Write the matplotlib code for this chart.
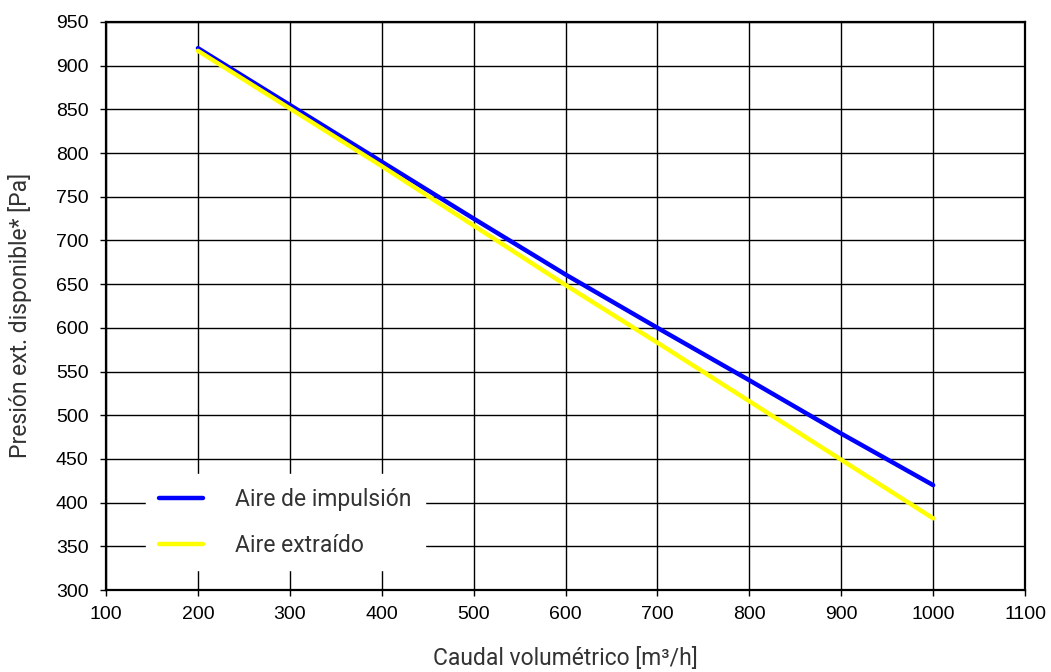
import matplotlib
matplotlib.use("Agg")
import matplotlib.pyplot as plt

# data
caudal = [200, 300, 400, 500, 600, 700, 800, 900, 1000]
impulsion = [920, 855, 790, 725, 661, 600, 540, 479, 420]
extraido = [917, 851, 785, 717, 649, 583, 516, 449, 382]

x_ticks = list(range(100, 1101, 100))
y_ticks = list(range(300, 951, 50))

plt.rcParams['font.family'] = ['Liberation Sans', 'DejaVu Sans']

fig = plt.figure(figsize=(10.51, 6.72), dpi=100)
ax = fig.add_axes([0.1009, 0.1220, 0.8744, 0.8453])

ax.plot(caudal, impulsion, color='#0000ff', lw=3.2, solid_capstyle='round',
        label='Aire de impulsión', zorder=3)
ax.plot(caudal, extraido, color='#ffff00', lw=3.2, solid_capstyle='round',
        label='Aire extraído', zorder=4)

ax.set_xlim(100, 1100)
ax.set_ylim(300, 950)
ax.set_xticks(x_ticks)
ax.set_yticks(y_ticks)
ax.grid(True, color='black', lw=1.0)
ax.set_axisbelow(True)
for s in ax.spines.values():
    s.set_linewidth(1.6)
ax.tick_params(direction='out', length=4.5, width=1, labelsize=14)
ax.tick_params(axis='y', pad=8)
ax.tick_params(axis='x', pad=7)

lab_font = dict(family=['Roboto', 'DejaVu Sans'], size=16.5, color='#333333')
ax.set_xlabel('Caudal volumétrico [m³/h]', fontdict=lab_font)
ax.set_ylabel('Presión ext. disponible* [Pa]', fontdict=lab_font)
ax.xaxis.set_label_coords(0.5, -0.100)
ax.yaxis.set_label_coords(-0.0805, 0.484)

leg = ax.legend(loc='lower left', bbox_to_anchor=(0.043, 0.0345), borderaxespad=0,
                frameon=True, fancybox=False, framealpha=1, facecolor='white',
                edgecolor='white', handlelength=1.9, handletextpad=1.4,
                labelspacing=1.0, borderpad=0.6,
                prop={'family': ['Roboto', 'DejaVu Sans'], 'size': 16.5})
for t in leg.get_texts():
    t.set_color('#333333')
leg.set_zorder(5)

fig.savefig('out.png', dpi=100)
